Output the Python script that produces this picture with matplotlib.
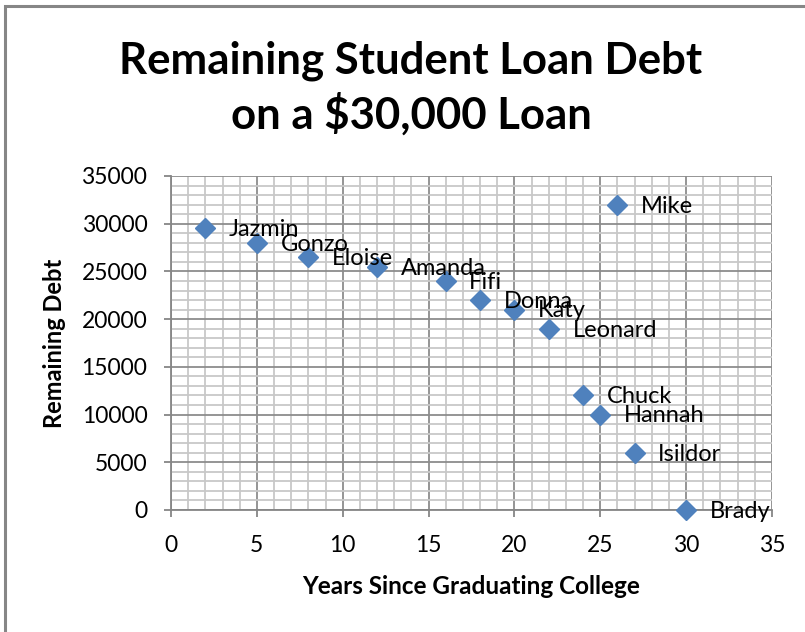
import matplotlib.pyplot as plt
from matplotlib.patches import Rectangle
from matplotlib.ticker import MultipleLocator

# Data
names = ["Jazmin", "Gonzo", "Eloise", "Amanda", "Fifi", "Donna", "Katy",
         "Leonard", "Mike", "Chuck", "Hannah", "Isildor", "Brady"]
years = [2, 5, 8, 12, 16, 18, 20, 22, 26, 24, 25, 27, 30]
debt = [29500, 28000, 26500, 25500, 24000, 22000, 21000, 19000,
        32000, 12000, 10000, 6000, 0]

plt.rcParams['font.family'] = ['Lato', 'DejaVu Sans']

W, H = 805, 632
fig = plt.figure(figsize=(W / 100, H / 100), dpi=100)

# outer chart border (cropped on the right and bottom)
fig.patches.append(Rectangle((4.5 / W, -0.1), 1.2, 1.1 - 5.5 / H,
                             transform=fig.transFigure, fill=False,
                             edgecolor='#868686', linewidth=2.2))

ax = fig.add_axes([171 / W, 1 - 510 / H, (772 - 171) / W, (510 - 176) / H])

ax.set_xlim(0, 35)
ax.set_ylim(0, 35000)
ax.xaxis.set_major_locator(MultipleLocator(5))
ax.xaxis.set_minor_locator(MultipleLocator(1))
ax.yaxis.set_major_locator(MultipleLocator(5000))
ax.yaxis.set_minor_locator(MultipleLocator(1000))

ax.grid(which='minor', color='#C8C8C8', linewidth=1.3)
ax.grid(which='major', color='#8C8C8C', linewidth=1.3)
ax.set_axisbelow(True)

for side in ['top', 'right']:
    ax.spines[side].set_visible(False)
for side in ['left', 'bottom']:
    ax.spines[side].set_color('#868686')
    ax.spines[side].set_linewidth(1.3)

ax.tick_params(which='major', length=5, width=1.3, color='#868686',
               labelsize=16.5)
ax.tick_params(axis='x', pad=13)
ax.tick_params(axis='y', pad=12)
ax.tick_params(which='minor', length=0)

ax.plot(years, debt, linestyle='none', marker='D', markersize=10.5,
        color='#4F81BD', clip_on=False, zorder=3)

for n, x, y in zip(names, years, debt):
    ax.annotate(n, (x, y), xytext=(17, -1), textcoords='offset points',
                ha='left', va='center', fontsize=17, zorder=4,
                annotation_clip=False)

ax.set_xlabel("Years Since Graduating College", fontsize=17.5,
              fontweight='bold', labelpad=14)
ax.set_ylabel("Remaining Debt", fontsize=17, fontweight='bold', labelpad=11)

fig.text(411 / W, 1 - 88 / H, "Remaining Student Loan Debt\non a \\$30,000 Loan",
         ha='center', va='center', fontsize=31.5, fontweight='bold',
         linespacing=1.33)

fig.savefig("out.png", dpi=100)
